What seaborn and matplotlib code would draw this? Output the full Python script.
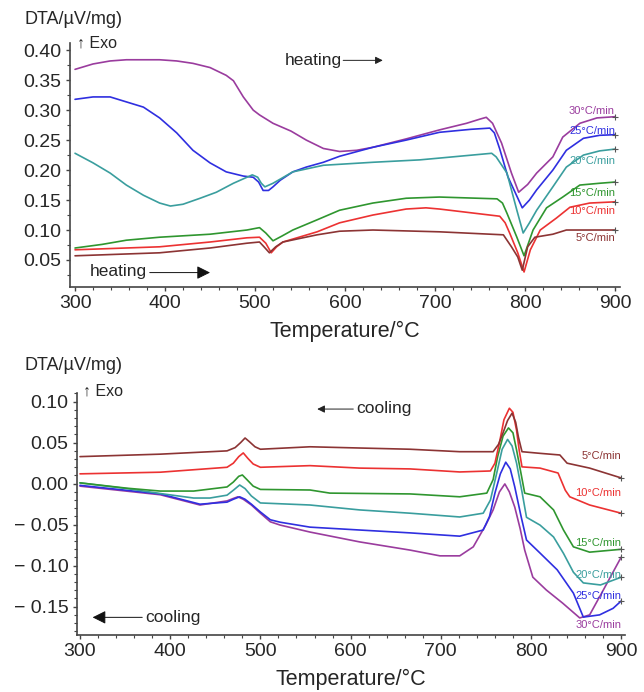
import numpy as np
import pandas as pd
import matplotlib
matplotlib.use("Agg")
import matplotlib.pyplot as plt
from matplotlib.ticker import MultipleLocator, FixedLocator, FixedFormatter
import seaborn as sns

# heating curves (DTA vs temperature)
heat30_T = [300, 320, 339, 357, 394, 413, 431, 450, 468, 476, 487, 498, 505, 520, 540, 557, 576, 594, 613, 631,
            668, 705, 735, 750, 757, 764, 774, 785, 793, 803, 813, 831, 842, 861, 880, 900]
heat30 = [0.368, 0.377, 0.382, 0.384, 0.384, 0.382, 0.378, 0.371, 0.358, 0.349, 0.322, 0.30, 0.292, 0.278, 0.265,
          0.25, 0.236, 0.231, 0.233, 0.238, 0.252, 0.267, 0.278, 0.285, 0.288, 0.278, 0.245, 0.195, 0.163, 0.176,
          0.195, 0.222, 0.255, 0.278, 0.287, 0.289]
heat25_T = [300, 320, 339, 376, 394, 413, 431, 450, 468, 487, 498, 504, 509, 515, 520, 528, 542, 557, 576, 594,
            631, 668, 705, 740, 761, 766, 772, 781, 797, 805, 813, 831, 846, 865, 883, 900]
heat25 = [0.318, 0.322, 0.322, 0.305, 0.287, 0.262, 0.233, 0.212, 0.197, 0.19, 0.188, 0.18, 0.166, 0.166, 0.172,
          0.183, 0.197, 0.205, 0.213, 0.223, 0.238, 0.25, 0.263, 0.268, 0.27, 0.262, 0.235, 0.189, 0.137, 0.15,
          0.167, 0.20, 0.233, 0.253, 0.258, 0.259]
heat20_T = [300, 320, 339, 357, 376, 394, 406, 420, 439, 457, 476, 491, 497, 503, 507, 511, 520, 542, 576, 631,
            683, 705, 763, 768, 780, 791, 798, 805, 813, 831, 846, 865, 883, 900]
heat20 = [0.228, 0.212, 0.195, 0.175, 0.158, 0.145, 0.14, 0.143, 0.153, 0.163, 0.178, 0.188, 0.192, 0.188, 0.178,
          0.172, 0.178, 0.197, 0.208, 0.213, 0.217, 0.22, 0.228, 0.222, 0.195, 0.133, 0.095, 0.112, 0.133, 0.172,
          0.205, 0.225, 0.232, 0.235]
heat15_T = [300, 330, 357, 394, 450, 491, 505, 512, 520, 530, 542, 569, 594, 631, 668, 705, 769, 775, 780, 791,
            799, 809, 824, 842, 861, 883, 900]
heat15 = [0.07, 0.076, 0.083, 0.088, 0.093, 0.10, 0.104, 0.095, 0.082, 0.09, 0.10, 0.117, 0.133, 0.145, 0.153,
          0.155, 0.152, 0.145, 0.128, 0.088, 0.057, 0.10, 0.137, 0.155, 0.175, 0.178, 0.18]
heat10_T = [300, 394, 450, 491, 505, 512, 518, 524, 531, 569, 594, 631, 668, 690, 705, 772, 778, 783, 792, 799,
            806, 817, 835, 850, 872, 900]
heat10 = [0.067, 0.072, 0.08, 0.087, 0.088, 0.078, 0.062, 0.072, 0.08, 0.097, 0.112, 0.125, 0.135, 0.137, 0.135,
          0.123, 0.112, 0.095, 0.062, 0.03, 0.067, 0.10, 0.12, 0.138, 0.145, 0.147]
heat5_T = [300, 394, 450, 491, 505, 510, 516, 523, 531, 569, 594, 631, 705, 776, 785, 792, 797, 803, 811, 831,
           846, 900]
heat5 = [0.057, 0.062, 0.07, 0.078, 0.08, 0.072, 0.062, 0.072, 0.08, 0.092, 0.098, 0.10, 0.097, 0.092, 0.072,
         0.055, 0.033, 0.072, 0.088, 0.093, 0.10, 0.10]

# cooling curves
cool5_T = [300, 389, 463, 472, 478, 483, 488, 494, 500, 555, 610, 666, 721, 758, 764, 769, 774, 779, 783, 786,
           790, 810, 832, 840, 865, 900]
cool5 = [0.033, 0.036, 0.04, 0.044, 0.05, 0.0557, 0.051, 0.045, 0.042, 0.045, 0.0435, 0.042, 0.039, 0.039, 0.048,
         0.062, 0.077, 0.086, 0.075, 0.057, 0.039, 0.037, 0.035, 0.025, 0.019, 0.007]
cool10_T = [300, 389, 463, 470, 476, 481, 486, 492, 500, 555, 610, 666, 721, 755, 760, 765, 770, 776, 780, 784,
            787, 790, 810, 830, 838, 843, 865, 900]
cool10 = [0.012, 0.014, 0.02, 0.025, 0.033, 0.0375, 0.031, 0.024, 0.02, 0.022, 0.019, 0.018, 0.0143, 0.0155,
          0.025, 0.05, 0.078, 0.092, 0.087, 0.065, 0.04, 0.0205, 0.019, 0.013, -0.008, -0.016, -0.026, -0.036]
cool15_T = [300, 352, 389, 426, 463, 470, 476, 480, 485, 492, 500, 555, 577, 666, 721, 751, 758, 763, 769, 775,
            780, 784, 789, 793, 810, 825, 836, 847, 865, 900]
cool15 = [0.001, -0.0055, -0.009, -0.009, -0.004, 0.002, 0.009, 0.0106, 0.005, -0.003, -0.007, -0.0077, -0.0115,
          -0.0125, -0.016, -0.0115, 0.005, 0.033, 0.058, 0.068, 0.062, 0.041, 0.012, -0.0115, -0.016, -0.032,
          -0.0565, -0.077, -0.0835, -0.08]
cool20_T = [300, 352, 389, 426, 444, 463, 470, 477, 483, 490, 500, 555, 610, 666, 721, 747, 755, 762, 768, 774,
            779, 784, 790, 795, 810, 825, 836, 847, 858, 877, 900]
cool20 = [0.001, -0.006, -0.012, -0.0175, -0.0175, -0.014, -0.008, -0.0016, -0.006, -0.015, -0.0235, -0.026,
          -0.032, -0.036, -0.0406, -0.036, -0.02, 0.013, 0.042, 0.054, 0.046, 0.025, -0.01, -0.041, -0.0505, -0.065,
          -0.085, -0.108, -0.121, -0.1235, -0.114]
cool25_T = [300, 389, 433, 463, 470, 477, 483, 490, 500, 511, 522, 555, 610, 666, 721, 747, 754, 760, 766, 772,
            777, 782, 789, 795, 810, 829, 847, 858, 876, 891, 900]
cool25 = [-0.002, -0.0125, -0.025, -0.0225, -0.019, -0.016, -0.019, -0.025, -0.0345, -0.044, -0.047, -0.053,
          -0.0565, -0.06, -0.064, -0.0565, -0.04, -0.0115, 0.012, 0.0262, 0.018, -0.004, -0.04, -0.0687, -0.0846,
          -0.105, -0.1335, -0.1627, -0.16, -0.152, -0.143]
cool30_T = [300, 389, 433, 463, 470, 475, 481, 490, 500, 511, 522, 555, 610, 666, 699, 721, 736, 750, 758, 765,
            771, 776, 782, 788, 793, 802, 817, 835, 854, 865, 880, 900]
cool30 = [-0.003, -0.0135, -0.026, -0.021, -0.018, -0.016, -0.019, -0.026, -0.036, -0.0465, -0.0505, -0.059,
          -0.071, -0.081, -0.088, -0.088, -0.077, -0.05, -0.032, -0.01, -0.0003, -0.01, -0.0286, -0.055, -0.081,
          -0.114, -0.1297, -0.1456, -0.1637, -0.16, -0.13, -0.0895]

rates = ["30°C/min", "25°C/min", "20°C/min", "15°C/min", "10°C/min", "5°C/min"]
colors = ["#9a3c9e", "#2f2fe0", "#3a9e9e", "#2f962f", "#ec3232", "#8c3434"]
heat_label_y = [0.298, 0.265, 0.215, 0.162, 0.132, 0.087]
cool_label_y = [-0.172, -0.137, -0.111, -0.0728, -0.0118, 0.0338]

heating = [(heat30_T, heat30), (heat25_T, heat25), (heat20_T, heat20),
           (heat15_T, heat15), (heat10_T, heat10), (heat5_T, heat5)]
cooling = [(cool30_T, cool30), (cool25_T, cool25), (cool20_T, cool20),
           (cool15_T, cool15), (cool10_T, cool10), (cool5_T, cool5)]

sns.set_style("ticks")
plt.rcParams["font.family"] = ["Liberation Sans", "DejaVu Sans"]
plt.rcParams["axes.unicode_minus"] = False

fig = plt.figure(figsize=(6.44, 6.92), dpi=100)
ax1 = fig.add_axes([0.1087, 0.5853, 0.854, 0.3526])
ax2 = fig.add_axes([0.1196, 0.0824, 0.8509, 0.3497])

for ax, curves, label_y in [(ax1, heating, heat_label_y), (ax2, cooling, cool_label_y)]:
    for (T, v), col, rate, ly in zip(curves, colors, rates, label_y):
        df = pd.DataFrame({"T": T, "DTA": v})
        sns.lineplot(data=df, x="T", y="DTA", ax=ax, color=col, lw=1.2,
                     marker="+", markevery=[len(T) - 1], markersize=5, mew=0.8, mec="#555555")
        ax.text(900, ly, rate, color=col, fontsize=8, ha="right", va="center")

    for side in ["top", "right"]:
        ax.spines[side].set_visible(False)
    for side in ["left", "bottom"]:
        ax.spines[side].set_color("#444444")
        ax.spines[side].set_linewidth(1.2)
    ax.tick_params(which="major", direction="out", length=3, width=1, color="#444444",
                   labelsize=14, pad=3)
    ax.tick_params(which="minor", direction="out", length=2, width=0.8, color="#444444")
    ax.xaxis.set_major_locator(MultipleLocator(100))
    ax.xaxis.set_minor_locator(MultipleLocator(20))
    ax.set_ylabel("")

# heating panel
ax1.set_xlim(294.4, 905.6)
ax1.set_ylim(0.005, 0.412)
ax1.yaxis.set_major_locator(MultipleLocator(0.05))
ax1.yaxis.set_minor_locator(MultipleLocator(0.025))
ax1.yaxis.set_major_formatter(plt.FormatStrFormatter("%.2f"))
ax1.set_xlabel("Temperature/°C", fontsize=15.5, labelpad=6)

ax1.text(533, 0.383, "heating", fontsize=12.5, ha="left", va="center")
ax1.annotate("", xy=(642, 0.383), xytext=(598, 0.383),
             arrowprops=dict(arrowstyle="-|>", color="#222222", lw=0.7, mutation_scale=11,
                             shrinkA=0, shrinkB=0))
ax1.text(316.7, 0.03, "heating", fontsize=12.5, ha="left", va="center")
ax1.annotate("", xy=(450, 0.029), xytext=(383, 0.029),
             arrowprops=dict(arrowstyle="-|>", color="#111111", lw=0.7, mutation_scale=20,
                             shrinkA=0, shrinkB=0))

# cooling panel
ax2.set_xlim(296.7, 904.2)
ax2.set_ylim(-0.1845, 0.1106)
cool_ticks = [-0.15, -0.10, -0.05, 0.0, 0.05, 0.10]
ax2.yaxis.set_major_locator(FixedLocator(cool_ticks))
ax2.yaxis.set_major_formatter(FixedFormatter(["− 0.15", "− 0.10", "− 0.05", "0.00", "0.05", "0.10"]))
ax2.yaxis.set_minor_locator(MultipleLocator(0.01))
ax2.set_xlabel("Temperature/°C", fontsize=15.5, labelpad=6)

ax2.text(606, 0.092, "cooling", fontsize=12.5, ha="left", va="center")
ax2.annotate("", xy=(563, 0.091), xytext=(603, 0.091),
             arrowprops=dict(arrowstyle="-|>", color="#222222", lw=0.7, mutation_scale=11,
                             shrinkA=0, shrinkB=0))
ax2.text(372, -0.163, "cooling", fontsize=12.5, ha="left", va="center")
ax2.annotate("", xy=(314, -0.163), xytext=(369, -0.163),
             arrowprops=dict(arrowstyle="-|>", color="#111111", lw=0.7, mutation_scale=20,
                             shrinkA=0, shrinkB=0))

# axis titles in the corner
fig.text(24 / 644, 1 - 20 / 692, "DTA/\u00b5V/mg)", fontsize=13, ha="left", va="center")
fig.text(77 / 644, 1 - 43 / 692, "\u2191 Exo", fontsize=11.5, ha="left", va="center")
fig.text(25 / 644, 1 - 365 / 692, "DTA/\u00b5V/mg)", fontsize=13, ha="left", va="center")
fig.text(83 / 644, 1 - 391 / 692, "\u2191 Exo", fontsize=11.5, ha="left", va="center")

fig.savefig("out.png", dpi=100)
